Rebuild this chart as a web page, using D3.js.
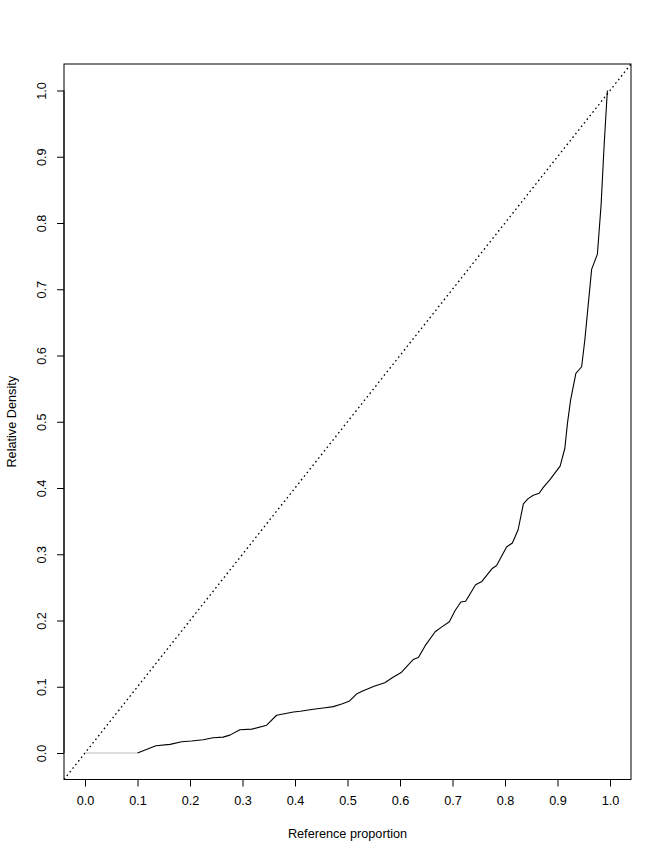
<!DOCTYPE html>
<html>
<head>
<meta charset="utf-8">
<script src="https://cdn.jsdelivr.net/npm/d3@7"></script>
<style>
html,body{margin:0;padding:0;background:#fff;}
svg{display:block;}
text{font-family:"Liberation Sans",Arial,Helvetica,sans-serif;font-size:12.7px;fill:#000;}
</style>
</head>
<body>
<svg id="chart" width="664" height="860"></svg>
<script>
// Data
const xTicks = [0.0,0.1,0.2,0.3,0.4,0.5,0.6,0.7,0.8,0.9,1.0];
const yTicks = [0.0,0.1,0.2,0.3,0.4,0.5,0.6,0.7,0.8,0.9,1.0];
const xLabel = "Reference proportion";
const yLabel = "Relative Density";
// grey flat segment (no data mass)
const flatX = [0.0, 0.100];
const flatY = [0.0, 0.000];
// relative cumulative curve
const refProp = [0.100,0.135,0.162,0.184,0.203,0.225,0.244,0.263,0.276,0.295,0.318,0.346,0.365,0.397,0.410,0.435,0.454,0.473,0.489,0.503,0.517,0.530,0.552,0.571,0.586,0.603,0.625,0.635,0.648,0.667,0.679,0.694,0.705,0.716,0.725,0.744,0.756,0.775,0.784,0.803,0.814,0.825,0.835,0.844,0.854,0.865,0.873,0.886,0.905,0.914,0.919,0.925,0.935,0.946,0.952,0.965,0.976,0.983,0.989,0.995];
const relDens = [0.000,0.011,0.013,0.017,0.018,0.020,0.023,0.024,0.027,0.035,0.036,0.042,0.057,0.062,0.063,0.066,0.068,0.070,0.074,0.078,0.089,0.094,0.101,0.106,0.114,0.122,0.141,0.144,0.162,0.183,0.190,0.198,0.215,0.228,0.229,0.254,0.259,0.278,0.283,0.311,0.317,0.337,0.376,0.384,0.389,0.392,0.401,0.413,0.433,0.460,0.498,0.533,0.573,0.583,0.623,0.730,0.753,0.827,0.920,1.000];
const diagonal = [-0.04, 1.04];

(function(){
const svg = d3.select("#chart");
const pL = 64, pR = 631, pT = 64, pB = 779.5;
const x = d3.scaleLinear().domain([-0.04,1.04]).range([pL,pR]);
const y = d3.scaleLinear().domain([-0.04,1.04]).range([pB,pT]);

svg.append("defs").append("clipPath").attr("id","pc")
  .append("rect").attr("x",pL).attr("y",pT).attr("width",pR-pL).attr("height",pB-pT);

const plot = svg.append("g").attr("clip-path","url(#pc)");

// diagonal dotted reference line
plot.append("line")
  .attr("x1",x(diagonal[0])).attr("y1",y(diagonal[0]))
  .attr("x2",x(diagonal[1])).attr("y2",y(diagonal[1]))
  .attr("stroke","#000").attr("stroke-width",1.3).attr("stroke-dasharray","1.6,3");

const line = d3.line().x(d=>x(d[0])).y(d=>y(d[1]));

plot.append("path")
  .datum(flatX.map((v,i)=>[v,flatY[i]]))
  .attr("d",line).attr("fill","none").attr("stroke","#bebebe").attr("stroke-width",1.2);

plot.append("path")
  .datum(refProp.map((v,i)=>[v,relDens[i]]))
  .attr("d",line).attr("fill","none").attr("stroke","#000").attr("stroke-width",1.1)
  .attr("stroke-linejoin","round");

// box
svg.append("rect").attr("x",pL).attr("y",pT).attr("width",pR-pL).attr("height",pB-pT)
  .attr("fill","none").attr("stroke","#000").attr("stroke-width",1);

// x axis
const xAxis = d3.axisBottom(x).tickValues(xTicks).tickFormat(d3.format(".1f")).tickSize(7).tickPadding(9);
const gx = svg.append("g").attr("transform",`translate(0,${pB})`).call(xAxis);
gx.select(".domain").attr("d",`M${x(0)},0H${x(1)}`);
gx.selectAll("text").attr("font-size",12.7).attr("font-family","Liberation Sans, Arial, sans-serif");

// y axis
const yAxis = d3.axisLeft(y).tickValues(yTicks).tickFormat(d3.format(".1f")).tickSize(7).tickPadding(0);
const gy = svg.append("g").attr("transform",`translate(${pL},0)`).call(yAxis);
gy.select(".domain").attr("d",`M0,${y(0)}V${y(1)}`);
gy.selectAll(".tick text")
  .attr("x",null).attr("dy","0.35em")
  .attr("text-anchor","middle")
  .attr("font-size",12.7).attr("font-family","Liberation Sans, Arial, sans-serif")
  .attr("transform","translate(-22,0) rotate(-90)");

// axis titles
svg.append("text").attr("x",(pL+pR)/2).attr("y",838).attr("text-anchor","middle").text(xLabel);
svg.append("text").attr("transform",`translate(16,${(pT+pB)/2}) rotate(-90)`).attr("text-anchor","middle").text(yLabel);
})();
</script>
</body>
</html>
